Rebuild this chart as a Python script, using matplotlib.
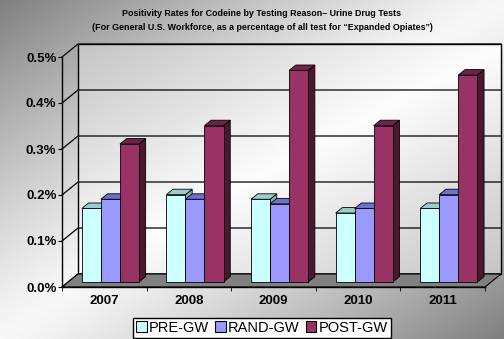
import matplotlib
matplotlib.use('Agg')
import matplotlib.pyplot as plt
import numpy as np
from matplotlib.patches import Polygon, Patch

plt.rcParams['font.family'] = ['Liberation Sans', 'DejaVu Sans']

# data (percent)
years = ['2007', '2008', '2009', '2010', '2011']
series = ['PRE-GW', 'RAND-GW', 'POST-GW']
pre_gw = [0.16, 0.19, 0.18, 0.15, 0.16]
rand_gw = [0.18, 0.18, 0.17, 0.16, 0.19]
post_gw = [0.30, 0.34, 0.46, 0.34, 0.45]
y_ticks = [0.0, 0.1, 0.2, 0.3, 0.4, 0.5]

front_colors = ['#CCFFFF', '#9999FF', '#993366']
top_colors = ['#9CCCCC', '#6F6FCC', '#6E2449']
side_colors = ['#86B0B0', '#5E5EA8', '#4C1830']

W, H = 504, 339
fig = plt.figure(figsize=(W / 100, H / 100), dpi=100)

# background gradient
xx, yy = np.meshgrid(np.linspace(0, 1, 300), np.linspace(0, 1, 200))
t = np.abs((xx + yy) - 1.0)
bgimg = 0.97 - 0.47 * t ** 1.2
bg = fig.add_axes([0, 0, 1, 1])
bg.imshow(bgimg, extent=[0, 1, 0, 1], aspect='auto', cmap='gray', vmin=0, vmax=1, origin='upper')
bg.axis('off')

# front plane of the plot
x0, x1, yb, yt = 62, 485, 287, 57
ax = fig.add_axes([x0 / W, 1 - yb / H, (x1 - x0) / W, (yb - yt) / H])
ax.patch.set_alpha(0)
n = len(years)
ax.set_xlim(0, n)
ax.set_ylim(0, 0.5)

# pixel -> data units
sx = n / (x1 - x0)
sy = 0.5 / (yb - yt)
bx, by = 16 * sx, 13 * sy          # floor depth
px, py = 0.38 * bx, 0.38 * by      # bar plane shift
dx, dy = 0.42 * bx, 0.42 * by      # bar depth

# back wall with gradient
wxx, wyy = np.meshgrid(np.linspace(0, 1, 200), np.linspace(0, 1, 150))
wt = np.abs((wxx + wyy) - 1.0)
wall = 0.99 - 0.22 * wt
ax.imshow(wall, extent=[bx, n + bx, by, 0.5 + by], aspect='auto', cmap='gray',
          vmin=0, vmax=1, origin='upper', zorder=0, clip_on=False)
ax.add_patch(Polygon([(bx, by), (n + bx, by), (n + bx, 0.5 + by), (bx, 0.5 + by)],
                     closed=True, fill=False, edgecolor='black', lw=1.0, zorder=1, clip_on=False))

# gridlines (side + back)
for v in y_ticks:
    ax.plot([0, bx, n + bx], [v, v + by, v + by], color='black', lw=0.9, zorder=1, clip_on=False)

# floor
ax.add_patch(Polygon([(0, 0), (n, 0), (n + bx, by), (bx, by)], closed=True,
                     facecolor='#808080', edgecolor='black', lw=0.8, zorder=2, clip_on=False))

# bars
w = 0.225
groups = [pre_gw, rand_gw, post_gw]
z = 3
for i in range(n):
    for j, vals in enumerate(groups):
        h = vals[i]
        l = i + 0.5 + (j - 1.5) * w + px
        r = l + w
        b = py
        top = h + py
        ax.add_patch(Polygon([(r, b), (r + dx, b + dy), (r + dx, top + dy), (r, top)], closed=True,
                             facecolor=side_colors[j], edgecolor='black', lw=0.6, zorder=z, clip_on=False))
        ax.add_patch(Polygon([(l, top), (r, top), (r + dx, top + dy), (l + dx, top + dy)], closed=True,
                             facecolor=top_colors[j], edgecolor='black', lw=0.6, zorder=z, clip_on=False))
        ax.add_patch(Polygon([(l, b), (r, b), (r, top), (l, top)], closed=True,
                             facecolor=front_colors[j], edgecolor='black', lw=0.6, zorder=z + 1, clip_on=False))
        z += 2

# axes
for s in ['top', 'right']:
    ax.spines[s].set_visible(False)
ax.spines['left'].set_linewidth(1.0)
ax.spines['bottom'].set_linewidth(1.0)
ax.spines['left'].set_zorder(50)
ax.spines['bottom'].set_zorder(50)
ax.set_yticks(y_ticks)
ax.set_yticklabels(['{:.1f}%'.format(v) for v in y_ticks], fontsize=9.5, fontweight='bold')
ax.set_xticks(np.arange(n + 1), minor=True)
ax.set_xticks(np.arange(n) + 0.5)
ax.set_xticklabels(years, fontsize=9.5, fontweight='bold')
ax.tick_params(axis='x', which='major', length=0, pad=6)
ax.tick_params(axis='x', which='minor', length=3, direction='out')
ax.tick_params(axis='y', length=3, direction='out', pad=1)

fig.text(262 / W, 1 - 13 / H, 'Positivity Rates for Codeine by Testing Reason\u2013 Urine Drug Tests',
         ha='center', va='center', fontsize=6.4, fontweight='bold')
fig.text(262 / W, 1 - 27 / H,
         '(For General U.S. Workforce, as a percentage of all test for \u201cExpanded Opiates\u201d)',
         ha='center', va='center', fontsize=6.4, fontweight='bold')

handles = [Patch(facecolor=front_colors[j], edgecolor='black', lw=0.8) for j in range(3)]
leg = fig.legend(handles, series, loc='lower center', bbox_to_anchor=(262 / W, 1.5 / H), ncol=3,
                 fontsize=10.5, frameon=True, fancybox=False, edgecolor='black', framealpha=1,
                 handlelength=0.7, handleheight=0.7, handletextpad=0.15, columnspacing=0.45,
                 borderpad=0.2, borderaxespad=0)
leg.get_frame().set_linewidth(1.0)

fig.savefig('out.png', dpi=100)
